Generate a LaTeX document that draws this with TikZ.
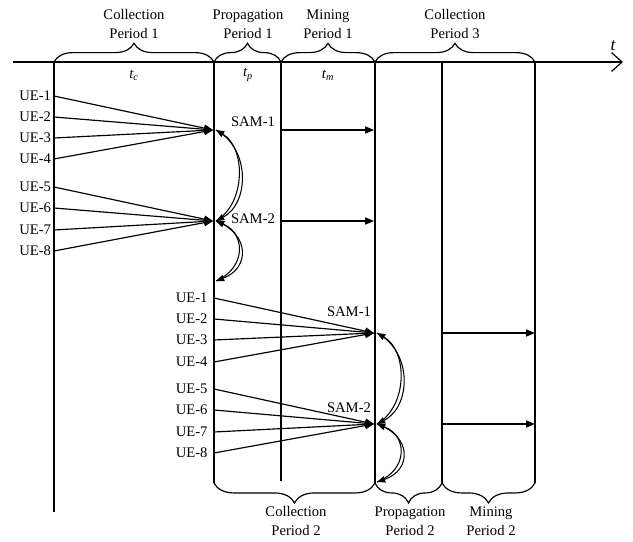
\documentclass[tikz,border=0pt]{standalone}
\usepackage{fontspec}
\setmainfont{Liberation Serif}
\usetikzlibrary{arrows.meta, decorations.pathreplacing}

\begin{document}
\begin{tikzpicture}[
        x=0.03cm, y=-0.03cm,
        line width=1pt,
        every node/.style={font=\fontsize{12.5}{16.5}\selectfont},
        period/.style={align=center, inner sep=0pt},
        tlabel/.style={font=\fontsize{12.5}{15}\selectfont\itshape, inner sep=0pt},
        ue/.style={anchor=east, inner ysep=0pt},
        sam/.style={inner sep=0pt},
        arr/.style={-{Triangle[length=7.5pt, width=6pt]}},
        hop/.style={-{Triangle[length=7pt, width=5.5pt]}, line width=0.9pt},
        topbrace/.style={decorate, decoration={brace, amplitude=16pt}},
        botbrace/.style={decorate, decoration={brace, amplitude=17pt, mirror}}
    ]
    \useasboundingbox (0,0) rectangle (633,542);

    % time axis
    \draw[-{Straight Barb[length=9pt, width=16pt]}] (13,62) -- (623,62);
    \node[tlabel, font=\fontsize{15}{18}\selectfont\itshape] (t) at (613,46) {t};

    % period boundaries
    \draw (54,62) -- (54,512);
    \draw (214,62) -- (214,483);
    \draw (281,62) -- (281,481);
    \draw (375,62) -- (375,483);
    \draw (442,62) -- (442,483);
    \draw (535,62) -- (535,483);

    \draw[topbrace] (54,62) -- (214,62);
    \draw[topbrace] (214,62) -- (281,62);
    \draw[topbrace] (281,62) -- (375,62);
    \draw[topbrace] (375,62) -- (535,62);
    \draw[botbrace] (214,483) -- (375,483);
    \draw[botbrace] (375,483) -- (442,483);
    \draw[botbrace] (442,483) -- (535,483);

    \node[period] (cp1) at (134,24) {Collection\\Period 1};
    \node[period] (pp1) at (248,24) {Propagation\\Period 1};
    \node[period] (mp1) at (328,24) {Mining\\Period 1};
    \node[period] (cp3) at (455,24) {Collection\\Period 3};
    \node[period] (cp2) at (296,521) {Collection\\Period 2};
    \node[period] (pp2) at (410,521) {Propagation\\Period 2};
    \node[period] (mp2) at (491,521) {Mining\\Period 2};

    \node[tlabel] (tc) at (134,75) {t\textsubscript{c}};
    \node[tlabel] (tp) at (248,75) {t\textsubscript{p}};
    \node[tlabel] (tm) at (328,75) {t\textsubscript{m}};

    % first round: UEs report to the SAMs
    \coordinate (in1) at (213,130);
    \coordinate (in2) at (213,221);
    \node[sam] (sam1) at (253,122) {SAM-1};
    \node[sam] (sam2) at (253,219) {SAM-2};
    \foreach \i/\y in {1/96,2/117,3/138,4/159} {
        \node[ue, inner xsep=2pt] (ue\i) at (54,\y) {UE-\i};
        \draw[arr] (ue\i.east) -- (in1);
    }
    \foreach \i/\y in {5/187,6/208,7/230,8/251} {
        \node[ue, inner xsep=2pt] (ue\i) at (54,\y) {UE-\i};
        \draw[arr] (ue\i.east) -- (in2);
    }

    % propagation between SAMs
    \coordinate (j1) at (216,130);
    \coordinate (j2) at (216,221);
    \coordinate (j3) at (216,281);
    \draw[hop] (j1) .. controls (250,148) and (250,203) .. (j2);
    \draw[hop] (j2) .. controls (246,203) and (246,148) .. (j1);
    \draw[hop] (j2) .. controls (250,234) and (250,268) .. (j3);
    \draw[hop] (j3) .. controls (246,268) and (246,234) .. (j2);

    % mining
    \coordinate (m1) at (281,130);
    \coordinate (m2) at (281,221);
    \coordinate (e1) at (374,130);
    \coordinate (e2) at (374,221);
    \draw[arr] (m1) -- (e1);
    \draw[arr] (m2) -- (e2);

    % second round
    \coordinate (in3) at (374,333);
    \coordinate (in4) at (374,424);
    \node[sam] (sam3) at (349,312) {SAM-1};
    \node[sam] (sam4) at (349,408) {SAM-2};
    \foreach \i/\y in {1/298,2/319,3/340,4/362} {
        \node[ue, inner xsep=5pt] (ve\i) at (214,\y) {UE-\i};
        \draw[arr] (ve\i.east) -- (in3);
    }
    \foreach \i/\y in {5/389,6/410,7/432,8/453} {
        \node[ue, inner xsep=5pt] (ve\i) at (214,\y) {UE-\i};
        \draw[arr] (ve\i.east) -- (in4);
    }

    \coordinate (j4) at (377,333);
    \coordinate (j5) at (377,424);
    \coordinate (j6) at (377,482);
    \draw[hop] (j4) .. controls (412,351) and (412,406) .. (j5);
    \draw[hop] (j5) .. controls (408,406) and (408,351) .. (j4);
    \draw[hop] (j5) .. controls (412,436) and (412,470) .. (j6);
    \draw[hop] (j6) .. controls (408,470) and (408,436) .. (j5);

    \coordinate (m3) at (442,333);
    \coordinate (m4) at (442,424);
    \coordinate (e3) at (535,333);
    \coordinate (e4) at (535,424);
    \draw[arr] (m3) -- (e3);
    \draw[arr] (m4) -- (e4);

\end{tikzpicture}
\end{document}
